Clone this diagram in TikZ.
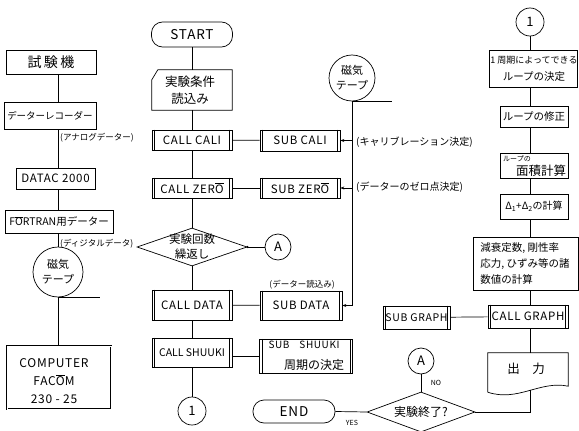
\documentclass[tikz,border=0pt]{standalone}
\usepackage{fontspec}
\setmainfont{Noto Sans CJK JP}
\newfontfamily\widefont[LetterSpace=6]{Noto Sans CJK JP}
\usetikzlibrary{shapes.geometric,arrows.meta,calc}
\newcommand\ovO{$\overline{\hbox{O}}$}
\begin{document}
\begin{tikzpicture}[x=1pt,y=-1pt,
  every node/.style={inner sep=0pt, align=center, font=\fontsize{10}{12.5}\selectfont},
  ln/.style={line width=0.7pt},
  box/.style={draw, rectangle, ln},
  term/.style={draw, rectangle, rounded corners=11pt, ln},
  conn/.style={draw, circle, ln},
  dec/.style={draw, diamond, ln},
  arr/.style={ln, -{Stealth[length=4pt,width=3pt]}},
  lat/.style={font=\widefont\fontsize{11.5}{14}\selectfont},
  big/.style={font=\widefont\fontsize{13.5}{16}\selectfont},
  note/.style={font=\fontsize{8.5}{10}\selectfont},
  lnote/.style={font=\fontsize{10}{12}\selectfont},
  small/.style={font=\fontsize{7}{8}\selectfont},
  fs/.style 2 args={font=\fontsize{#1}{#2}\selectfont}
]
\useasboundingbox (0,0) rectangle (579,431);

% ---------------- left column ----------------
\node[box, fs={14}{16}, minimum width=90, minimum height=24] (shiken) at (51,62) {試\,験\,機};
\node[box, fs={9.5}{11}, minimum width=92, minimum height=27] (recorder) at (50,116) {データーレコーダー};
\node[box, lat, minimum width=79, minimum height=21] (datac) at (55.5,178.5) {DATAC 2000};
\node[box, fs={10.5}{12}, minimum width=108, minimum height=23] (fortran) at (59,221.5) {F\ovO RTRAN用データー};
\node[conn, fs={11}{15}, minimum size=50] (tape1) at (58,272) {磁気\\テープ};
\node[draw, rectangle, line width=0.8pt, double, double distance=0.8pt, minimum width=104, minimum height=63] (computer) at (59,377.5) {};
\node[font=\widefont\fontsize{12}{18}\selectfont] (comptext) at (54,381) {COMPUTER\\FAC\ovO M\\230 - 25};
\coordinate (t1tail) at ($(tape1.south)+(42,0)$);

\draw[ln] (shiken.south -| tape1) -- (recorder.north -| tape1);
\draw[ln] (recorder.south -| tape1) -- (datac.north -| tape1);
\draw[ln] (datac.south -| tape1) -- (fortran.north -| tape1);
\draw[ln] (fortran.south -| tape1) -- (tape1.north);
\draw[ln] (tape1.south) -- (t1tail);
\draw[ln] (tape1.south) -- (computer.north -| tape1);

\node[note, anchor=west] (lab1) at (60,138) {(アナログデーター)};
\node[note, anchor=west] (lab2) at (60,244) {(ディジタルデータ)};

% ---------------- middle column ----------------
\node[term, big, minimum width=81, minimum height=25] (start) at (192,34.5) {START};
\node[minimum width=80, minimum height=40] (cond) at (192,90) {};
\node[fs={12.5}{17}] (condtext) at (190,90) {実験条件\\読込み};
\draw[ln] ($(cond.north west)+(0,10)$) -- ($(cond.north west)+(6,0)$) -- (cond.north east)
  -- (cond.south east) -- (cond.south west) -- cycle;
\node[box, lat, minimum width=80, minimum height=20] (cali) at (192,140) {CALL CALI};
\node[box, lat, minimum width=80, minimum height=20] (zero) at (192,188) {CALL ZER\ovO};
\node[dec, minimum width=110, minimum height=38] (loop) at (192,247) {};
\node[fs={11.5}{15}] (looptext) at (loop) {実験回数\\繰返し};
\node[conn, fs={13}{15}, minimum size=26] (A1) at (278,247) {A};
\node[box, lat, minimum width=80, minimum height=30] (data) at (192,305) {CALL DATA};
\node[box, fs={10.5}{12}, minimum width=80, minimum height=29] (shuuki) at (192,352.5) {CALL SHUUKI};
\node[conn, fs={13}{15}, minimum size=28] (con1) at (192,411) {1};

\draw[ln] (start) -- (cond);
\draw[ln] (cond) -- (cali);
\draw[ln] (cali) -- (zero);
\draw[ln] (zero) -- (loop);
\draw[ln] (loop) -- (data);
\draw[ln] (data) -- (shuuki);
\draw[ln] (shuuki) -- (con1);
\draw[ln] (loop.east) -- (A1);
\fill (loop.east) circle (1.2);

% ---------------- subroutines ----------------
\node[box, lat, minimum width=80, minimum height=21] (subcali) at (300,140.5) {SUB CALI};
\node[box, lat, minimum width=80, minimum height=20] (subzero) at (300,188) {SUB ZER\ovO};
\node[box, lat, minimum width=82, minimum height=29] (subdata) at (301,305.5) {SUB DATA};
\node[box, minimum width=93, minimum height=34] (ssbox) at (306.3,356.2) {};
\node[font=\widefont\fontsize{10}{12}\selectfont] (ssa) at (304,345) {SUB\quad SHUUKI};
\node[fs={12}{14}] (ssb) at (314,365) {周期の決定};
\coordinate (shj) at ($(shuuki.east)+(0,4)$);

\draw[ln] (cali) -- (subcali);
\draw[ln] (zero) -- (subzero);
\draw[ln] (data) -- (subdata);
\draw[ln] (shj) -- (shj -| ssbox.west);

\node[note] (lab5) at (302,285) {(データー読込み)};

% magnetic tape 2
\node[conn, fs={11}{15}, minimum size=46] (tape2) at (352,78) {磁気\\テープ};
\coordinate (t2tail) at ($(tape2.south)+(40,0)$);
\coordinate (t2bend) at (tape2.south |- subdata.east);
\draw[ln] (tape2.south) -- (t2tail);
\draw[ln] (tape2.south) -- (t2bend);
\draw[arr] (t2bend) -- (subdata.east);
\draw[arr] (tape2.south |- subcali.east) -- (subcali.east);
\draw[arr] (tape2.south |- subzero.east) -- (subzero.east);
\node[lnote, anchor=west] (lab3) at (356,142) {(キャリブレーション決定)};
\node[lnote, anchor=west] (lab4) at (356,187) {(データーのゼロ点決定)};

% ---------------- right column ----------------
\node[conn, fs={13}{15}, minimum size=28] (con2) at (530,22) {1};
\node[box, minimum width=88, minimum height=37] (r1) at (533.5,68.5) {};
\node[fs={9}{11}] (r1a) at (534,60) {1 周期によってできる};
\node[fs={10.5}{12}] (r1b) at (534,77) {ループの決定};
\node[box, fs={10.5}{12}, minimum width=68, minimum height=21] (r2) at (534,116.5) {ループの修正};
\node[box, minimum width=68, minimum height=25] (r3) at (534,165.5) {};
\node[small, anchor=west] (r3a) at (503,159) {ループの};
\node[fs={12.5}{14}] (r3b) at (541,171) {面積計算};
\node[box, fs={10}{12}, minimum width=68, minimum height=25] (r4) at (534,206.5)
  {Δ\textsubscript{1}+Δ\textsubscript{2}の計算};
\node[box, minimum width=105, minimum height=53] (r5) at (525.5,263.5) {};
\node[fs={10.5}{16}, align=left] (r5t) at (525,263.5) {減衰定数, 剛性率\\応力, ひずみ等の諸\\数値の計算};
\node[box, lat, minimum width=80, minimum height=23] (callgraph) at (528,316.5) {CALL GRAPH};
\node[box, font=\widefont\fontsize{10.5}{12}\selectfont, minimum width=67, minimum height=23] (subgraph) at (416.5,317.5) {SUB GRAPH};
\node[minimum width=80, minimum height=39] (out) at (528,372.5) {};
\node[fs={12.5}{14}] (outt) at (526,369) {出\quad 力};
\draw[ln] (out.south west) -- (out.north west) -- (out.north east) -- ($(out.south east)+(0,-6)$)
  .. controls ($(out.south east)+(-28,-12)$) and ($(out.south west)+(30,10)$) .. (out.south west);
\coordinate (outb) at ($(out.south)+(2,-2.5)$);

\node[dec, minimum width=108, minimum height=40] (endd) at (421,412) {};
\node[fs={12}{14}] (endtext) at (endd) {実験終了?};
\node[conn, fs={13}{15}, minimum size=26] (A2) at (421,361) {A};
\node[term, big, minimum width=82, minimum height=23] (endn) at (294,411.5) {END};
\node[small] (yes) at (352,423) {YES};
\node[small] (no) at (436,383) {NO};

\draw[ln] (con2) -- (con2 |- r1.north);
\draw[ln] (r1.south -| con2) -- (r2.north -| con2);
\draw[ln] (r2.south -| con2) -- (r3.north -| con2);
\draw[ln] (r3.south -| con2) -- (r4.north -| con2);
\draw[ln] (r4.south -| con2) -- (r5.north -| con2);
\draw[ln] (r5.south -| con2) -- (callgraph.north -| con2);
\draw[ln] (callgraph.south -| con2) -- (out.north -| con2);
\draw[ln] (subgraph) -- (callgraph);
\draw[ln] (outb -| con2) -- (endd.east -| con2) -- (endd.east);
\draw[ln] (A2) -- (endd.north);
\draw[ln] (endd.west) -- (endn.east);

% predefined-process side bars
\foreach \n in {cali,zero,data,shuuki,subcali,subzero,subdata,ssbox,callgraph,subgraph} {
  \draw[line width=0.5pt] ($(\n.north west)+(3,0)$) -- ($(\n.south west)+(3,0)$);
  \draw[line width=0.5pt] ($(\n.north east)+(-3,0)$) -- ($(\n.south east)+(-3,0)$);
}
\end{tikzpicture}
\end{document}
